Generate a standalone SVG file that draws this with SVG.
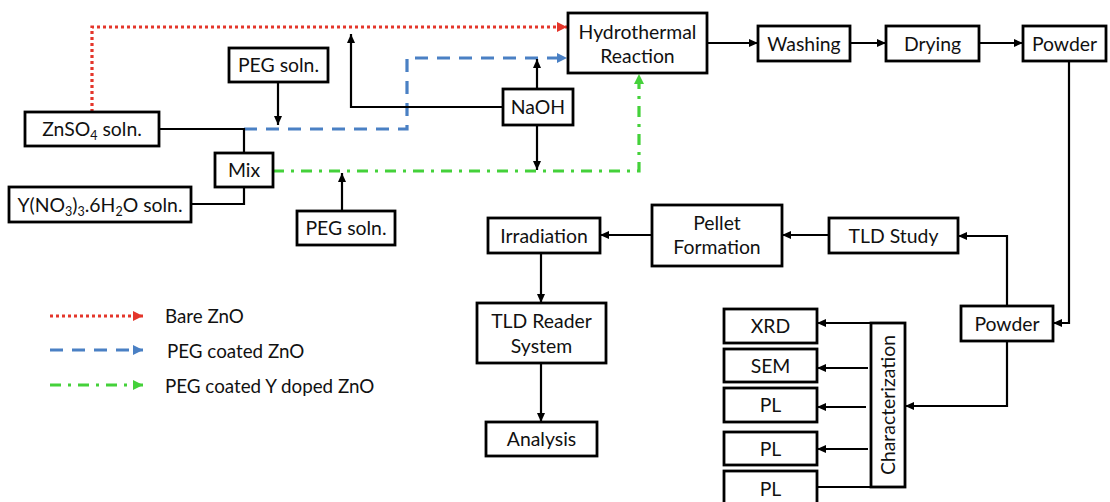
<svg xmlns="http://www.w3.org/2000/svg" width="1110" height="502" viewBox="0 0 1110 502">
  <style>
    .box { fill: #ffffff; stroke: #000000; stroke-width: 2.8; }
    .lbl { font-family: Lato, "Open Sans", "Liberation Sans", sans-serif; font-size: 19.4px; fill: #111111; text-anchor: middle; }
    .leg { font-family: Lato, "Open Sans", "Liberation Sans", sans-serif; font-size: 18.8px; fill: #111111; }
    .sub { font-size: 12.5px; }
    .wire { fill: none; stroke: #000000; stroke-width: 2.2; }
    .arr { fill: none; stroke: #000000; stroke-width: 2.2; marker-end: url(#ah); }
    .red { fill: none; stroke: #e4362b; stroke-width: 3.2; stroke-dasharray: 3 3; marker-end: url(#ahRed); }
    .blue { fill: none; stroke: #4a80c4; stroke-width: 3.2; stroke-dasharray: 13 9; marker-end: url(#ahBlue); }
    .green { fill: none; stroke: #44d13a; stroke-width: 3.2; stroke-dasharray: 11 7 3 7; marker-end: url(#ahGreen); }
  </style>
  <defs>
    <marker id="ah" markerUnits="userSpaceOnUse" markerWidth="9" markerHeight="8" refX="9" refY="4" orient="auto">
      <path d="M0,0 L9,4 L0,8 z" fill="#000000"/>
    </marker>
    <marker id="ahRed" markerUnits="userSpaceOnUse" markerWidth="10" markerHeight="10" refX="10" refY="5" orient="auto">
      <path d="M0,0 L10,5 L0,10 z" fill="#e4362b"/>
    </marker>
    <marker id="ahBlue" markerUnits="userSpaceOnUse" markerWidth="10" markerHeight="10" refX="10" refY="5" orient="auto">
      <path d="M0,0 L10,5 L0,10 z" fill="#4a80c4"/>
    </marker>
    <marker id="ahGreen" markerUnits="userSpaceOnUse" markerWidth="10" markerHeight="10" refX="10" refY="5" orient="auto">
      <path d="M0,0 L10,5 L0,10 z" fill="#44d13a"/>
    </marker>
  </defs>
  <rect width="1110" height="502" fill="#ffffff"/>

  <!-- connectors -->
  <g id="connectors">
    <!-- synthesis routes -->
    <path class="red" d="M92,112 V27 H567"/>
    <path class="blue" d="M244,129 H407 V58 H567"/>
    <path class="green" d="M273,171 H639 V74"/>
    <!-- precursor feeds -->
    <path class="wire" d="M159,129 H244 V153"/>
    <path class="wire" d="M191,204 H244 V187"/>
    <path class="arr" d="M278,82 V125"/>
    <path class="arr" d="M342,211 V173"/>
    <path class="arr" d="M503,107 H351 V34"/>
    <path class="arr" d="M537,89 V59"/>
    <path class="arr" d="M537,125 V170"/>
    <!-- processing chain -->
    <path class="arr" d="M707,43 H758"/>
    <path class="arr" d="M850,43 H886"/>
    <path class="arr" d="M979,43 H1023"/>
    <path class="arr" d="M1069,61 V323 H1053"/>
    <path class="arr" d="M1007,306 V236 H958"/>
    <path class="arr" d="M829,235 H782"/>
    <path class="arr" d="M652,235 H600"/>
    <path class="arr" d="M541,253 V303"/>
    <path class="arr" d="M541,363 V422"/>
    <path class="arr" d="M1007,341 V406 H905"/>
    <!-- characterization outputs -->
    <path class="arr" d="M871,323 H817"/>
    <path class="arr" d="M868,368 H817"/>
    <path class="arr" d="M866,407 H817"/>
    <path class="arr" d="M868,449 H817"/>
    <path class="wire" d="M871,487 H817"/>
  </g>

  <g id="znso4">
    <rect class="box" x="25" y="112" width="134" height="34"/>
    <text class="lbl" x="92" y="136">ZnSO<tspan class="sub" dy="4">4</tspan><tspan dy="-4"> soln.</tspan></text>
  </g>
  <g id="peg-top">
    <rect class="box" x="229" y="48" width="99" height="34"/>
    <text class="lbl" x="278.5" y="72">PEG soln.</text>
  </g>
  <g id="mix">
    <rect class="box" x="215" y="153" width="58" height="34"/>
    <text class="lbl" x="244" y="177">Mix</text>
  </g>
  <g id="yttrium">
    <rect class="box" x="9" y="187" width="182" height="35"/>
    <text class="lbl" x="100" y="211.5">Y(NO<tspan class="sub" dy="4">3</tspan><tspan dy="-4">)</tspan><tspan class="sub" dy="4">3</tspan><tspan dy="-4">.6H</tspan><tspan class="sub" dy="4">2</tspan><tspan dy="-4">O soln.</tspan></text>
  </g>
  <g id="peg-bottom">
    <rect class="box" x="297" y="211" width="98" height="34"/>
    <text class="lbl" x="346" y="235">PEG soln.</text>
  </g>
  <g id="naoh">
    <rect class="box" x="503" y="89" width="70" height="36"/>
    <text class="lbl" x="538" y="114">NaOH</text>
  </g>
  <g id="hydrothermal">
    <rect class="box" x="568" y="13" width="139" height="60"/>
    <text class="lbl" x="637.5" y="38.5">Hydrothermal</text>
    <text class="lbl" x="637.5" y="63">Reaction</text>
  </g>
  <g id="washing">
    <rect class="box" x="758" y="26" width="92" height="35"/>
    <text class="lbl" x="804" y="50.5">Washing</text>
  </g>
  <g id="drying">
    <rect class="box" x="886" y="26" width="93" height="35"/>
    <text class="lbl" x="932.5" y="50.5">Drying</text>
  </g>
  <g id="powder-1">
    <rect class="box" x="1023" y="26" width="83" height="35"/>
    <text class="lbl" x="1064.5" y="50.5">Powder</text>
  </g>
  <g id="tld-study">
    <rect class="box" x="829" y="218" width="129" height="35"/>
    <text class="lbl" x="893.5" y="242.5">TLD Study</text>
  </g>
  <g id="pellet">
    <rect class="box" x="652" y="205" width="130" height="61"/>
    <text class="lbl" x="717" y="230">Pellet</text>
    <text class="lbl" x="717" y="254">Formation</text>
  </g>
  <g id="irradiation">
    <rect class="box" x="488" y="218" width="112" height="35"/>
    <text class="lbl" x="544" y="242.5">Irradiation</text>
  </g>
  <g id="tld-reader">
    <rect class="box" x="477" y="303" width="129" height="60"/>
    <text class="lbl" x="541.5" y="327.5">TLD Reader</text>
    <text class="lbl" x="541.5" y="352.5">System</text>
  </g>
  <g id="analysis">
    <rect class="box" x="486" y="422" width="111" height="34"/>
    <text class="lbl" x="541.5" y="446">Analysis</text>
  </g>
  <g id="powder-2">
    <rect class="box" x="961" y="306" width="92" height="35"/>
    <text class="lbl" x="1007" y="330.5">Powder</text>
  </g>
  <g id="characterization">
    <rect class="box" x="871" y="323" width="34" height="164"/>
    <text class="lbl" transform="translate(895,405) rotate(-90)" x="0" y="0">Characterization</text>
  </g>
  <g id="xrd">
    <rect class="box" x="724" y="309" width="93" height="34"/>
    <text class="lbl" x="770.5" y="333">XRD</text>
  </g>
  <g id="sem">
    <rect class="box" x="724" y="349" width="93" height="33"/>
    <text class="lbl" x="770.5" y="372.5">SEM</text>
  </g>
  <g id="pl-1">
    <rect class="box" x="724" y="388" width="93" height="34"/>
    <text class="lbl" x="770.5" y="412">PL</text>
  </g>
  <g id="pl-2">
    <rect class="box" x="724" y="432" width="93" height="33"/>
    <text class="lbl" x="770.5" y="455.5">PL</text>
  </g>
  <g id="pl-3">
    <rect class="box" x="724" y="471" width="93" height="36"/>
    <text class="lbl" x="770.5" y="495.5">PL</text>
  </g>

  <!-- legend -->
  <g id="legend">
    <path class="red" d="M50,316 H143"/>
    <text class="leg" x="165" y="322.5">Bare ZnO</text>
    <path class="blue" d="M50,350 H143"/>
    <text class="leg" x="167" y="357.5">PEG coated ZnO</text>
    <path class="green" d="M50,385 H143"/>
    <text class="leg" x="165" y="392.5">PEG coated Y doped ZnO</text>
  </g>
</svg>
